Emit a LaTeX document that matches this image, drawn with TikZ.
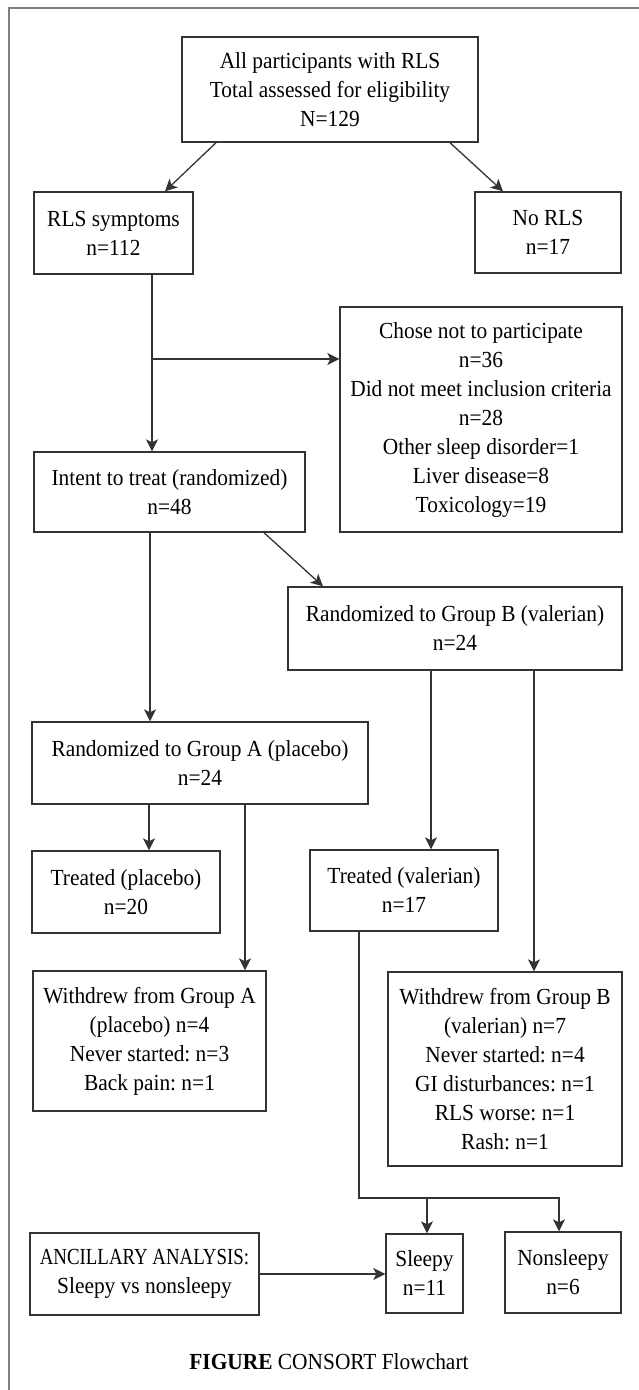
\documentclass[tikz,border=0pt]{standalone}
\usepackage{fontspec}
\setmainfont{Liberation Serif}[FakeStretch=0.93]
\newfontfamily\capsnarrow{Liberation Serif}[FakeStretch=0.82]
\usepackage{tikz}
\usetikzlibrary{positioning,arrows.meta}
\definecolor{flowline}{HTML}{333333}
\definecolor{framegray}{HTML}{808080}
\frenchspacing

\begin{document}
\begin{tikzpicture}[
    x=1pt, y=-1pt,
    box/.style={draw=flowline, line width=1.4pt, inner sep=0pt, align=center, font=\fontsize{23}{29}\selectfont},
    arrow/.style={-{Stealth[length=12pt,width=12pt,inset=3pt]}, draw=flowline, line width=1.3pt}
]
\useasboundingbox (0,0) rectangle (638,1390);
\draw[framegray, line width=2pt] (660,7.5) -| (8.5,1410);

\node[box, minimum width=296pt, minimum height=105pt] (total) at (330,89.5) {All participants with RLS\\Total assessed for eligibility\\N=129};
\node[box, minimum width=159pt, minimum height=82pt] (rls) at (113.5,233) {RLS symptoms\\n=112};
\node[box, minimum width=146pt, minimum height=81pt] (norls) at (548,232.5) {No RLS\\n=17};
\node[box, minimum width=282pt, minimum height=225pt] (excluded) at (481,419.5) {Chose not to participate\\n=36\\Did not meet inclusion criteria\\n=28\\Other sleep disorder=1\\Liver disease=8\\Toxicology=19};
\node[box, minimum width=271pt, minimum height=80pt] (itt) at (169.5,492) {Intent to treat (randomized)\\n=48};
\node[box, minimum width=334pt, minimum height=83pt] (groupb) at (455,628.5) {Randomized to Group B (valerian)\\n=24};
\node[box, minimum width=336pt, minimum height=82pt] (groupa) at (200,763) {Randomized to Group A (placebo)\\n=24};
\node[box, minimum width=188pt, minimum height=82pt] (treata) at (126,892) {Treated (placebo)\\n=20};
\node[box, minimum width=188pt, minimum height=81pt] (treatb) at (404,890.5) {Treated (valerian)\\n=17};
\node[box, minimum width=233pt, minimum height=140pt] (witha) at (149.5,1041) {Withdrew from Group A\\(placebo) n=4\\Never started: n=3\\Back pain: n=1};
\node[box, minimum width=234pt, minimum height=194pt] (withb) at (505,1069) {Withdrew from Group B\\(valerian) n=7\\Never started: n=4\\GI disturbances: n=1\\RLS worse: n=1\\Rash: n=1};
\node[box, minimum width=229pt, minimum height=82pt] (ancillary) at (144.5,1274) {{\capsnarrow ANCILLARY ANALYSIS:}\\Sleepy vs nonsleepy};
\node[box, minimum width=77pt, minimum height=79pt] (sleepy) at (424.5,1273.5) {Sleepy\\n=11};
\node[box, minimum width=116pt, minimum height=81pt] (nonsleepy) at (563,1272.5) {Nonsleepy\\n=6};
\node[font=\fontsize{23}{29}\selectfont] (caption) at (329,1362) {\textbf{FIGURE} CONSORT Flowchart};

% screening
\draw[arrow] (total.south -| 216,0) -- (rls.north -| 165,0);
\draw[arrow] (total.south -| 450,0) -- (norls.north -| 503,0);
\coordinate (split) at (152,359);
\draw[arrow] (rls.south -| split) -- (itt.north -| split);
\draw[arrow] (split) -- (excluded.west |- split);

% randomization
\draw[arrow] (itt.south -| 264,0) -- (groupb.north -| 323,0);
\draw[arrow] (itt.south -| 150,0) -- (groupa.north -| 150,0);
\draw[arrow] (groupa.south -| 149,0) -- (treata.north -| 149,0);
\draw[arrow] (groupa.south -| 245,0) -- (witha.north -| 245,0);
\draw[arrow] (groupb.south -| 431,0) -- (treatb.north -| 431,0);
\draw[arrow] (groupb.south -| 534,0) -- (withb.north -| 534,0);

% ancillary analysis
\coordinate (join) at (359,1198);
\coordinate (sturn) at (427,1198);
\coordinate (nsturn) at (559,1198);
\draw[arrow] (treatb.south -| join) -- (join) -- (nsturn) -- (nonsleepy.north -| nsturn);
\draw[arrow] (sturn) -- (sleepy.north -| sturn);
\draw[arrow] (ancillary.east) -- (sleepy.west |- ancillary.east);

\end{tikzpicture}
\end{document}
